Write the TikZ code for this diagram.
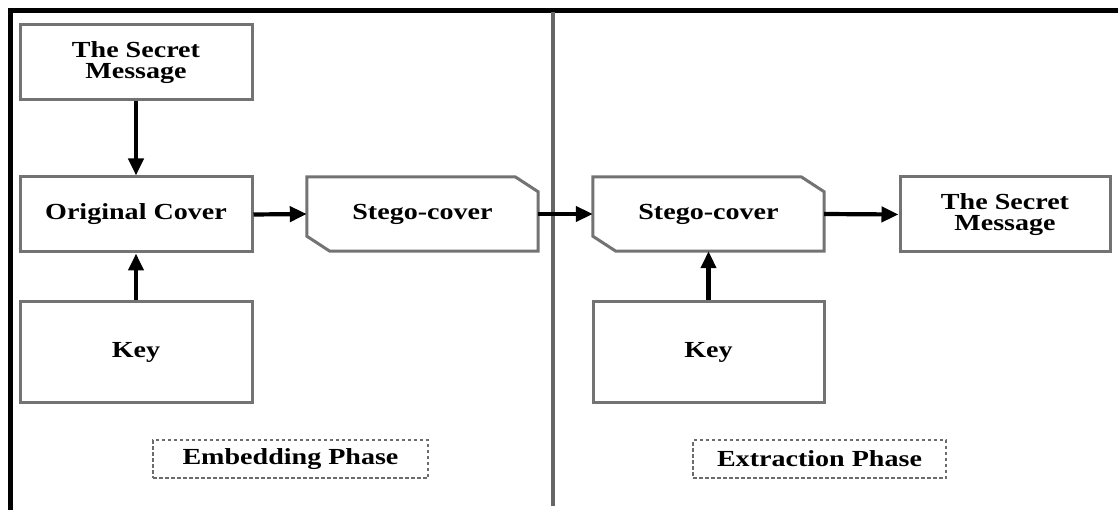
\documentclass[tikz,border=0pt]{standalone}
\usepackage{fontspec}
\setmainfont{Liberation Serif}
\newfontfamily\lblfont[FakeStretch=1.22]{Liberation Serif}
\usetikzlibrary{arrows.meta}
\tikzset{
  box/.style={draw=gray!90!black, line width=3pt, fill=white, align=center,
    font=\lblfont\bfseries\fontsize{23}{21}\selectfont, inner sep=0pt},
  plain/.style={align=center, font=\lblfont\bfseries\fontsize{23}{21}\selectfont, inner sep=0pt},
  phase/.style={draw=gray!85!black, line width=2pt, dash pattern=on 3.5pt off 2.5pt,
    font=\lblfont\bfseries\fontsize{23}{23}\selectfont, inner sep=0pt},
  arr/.style={line width=4.2pt, -{Triangle[length=17pt,width=15pt]}},
  chamf/.style={draw=gray!90!black, line width=3pt, fill=white, line join=miter}
}
\begin{document}
\begin{tikzpicture}[x=1pt,y=-1pt]
\useasboundingbox (0,0) rectangle (1118,510);
% frame
\draw[line width=4.5pt] (10.5,510) -- (10.5,10.5) -- (1118,10.5);
% divider
\draw[gray!80!black, line width=4pt] (553,12) -- (553,506);

% left side
\node[box, minimum width=232pt, minimum height=75pt] (sm1) at (136,62.5) {The Secret\\Message};
\node[box, minimum width=232pt, minimum height=75pt] (oc) at (136,214.5) {Original Cover};
\node[box, minimum width=232pt, minimum height=100pt] (k1) at (136,352) {Key};

% stego-cover left
\node[minimum width=231pt, minimum height=74pt, inner sep=0pt] (sc1) at (422.5,214) {};
\draw[chamf] (sc1.north west) -- ([xshift=-23pt]sc1.north east) -- ([yshift=-15pt]sc1.north east)
  -- (sc1.south east) -- ([xshift=23pt]sc1.south west) -- ([yshift=15pt]sc1.south west) -- cycle;
\node[plain] at (sc1.center) {Stego-cover};

% stego-cover right
\node[minimum width=231pt, minimum height=74pt, inner sep=0pt] (sc2) at (708.5,214) {};
\draw[chamf] (sc2.north west) -- ([xshift=-23pt]sc2.north east) -- ([yshift=-15pt]sc2.north east)
  -- (sc2.south east) -- ([xshift=23pt]sc2.south west) -- ([yshift=15pt]sc2.south west) -- cycle;
\node[plain] at (sc2.center) {Stego-cover};

\node[box, minimum width=210pt, minimum height=75pt] (sm2) at (1005,214.5) {The Secret\\Message};
\node[box, minimum width=231pt, minimum height=100pt] (k2) at (708.5,352) {Key};

% phases
\node[phase, minimum width=275pt, minimum height=38pt] (ep) at (290.5,459) {Embedding Phase};
\node[phase, minimum width=253pt, minimum height=38pt] (xp) at (819.5,459) {Extraction Phase};

% arrows
\draw[arr] (sm1.south) -- (oc.north);
\draw[arr] (k1.north) -- (oc.south);
\draw[arr] (oc.east) -- (sc1.west);
\draw[arr] (sc1.east) -- (sc2.west);
\draw[arr] (k2.north) -- (sc2.south);
\draw[arr] (sc2.east) -- (sm2.west);
\end{tikzpicture}
\end{document}
